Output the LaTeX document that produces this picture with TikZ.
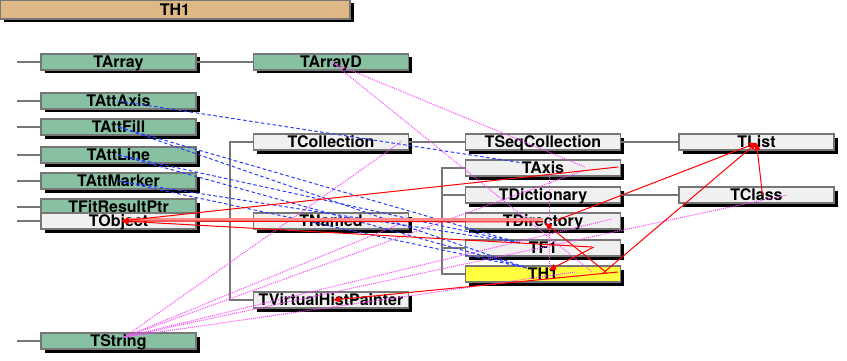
\documentclass[tikz,border=0pt]{standalone}
\usepackage{fontspec}
\setmainfont{TeX Gyre Heros}
\usetikzlibrary{calc,shadows,arrows.meta}
\definecolor{clsgreen}{RGB}{135,193,162}
\definecolor{clsgray}{RGB}{240,240,240}
\definecolor{clsyellow}{RGB}{255,255,64}
\definecolor{clstan}{RGB}{222,184,135}
\definecolor{edgegray}{RGB}{118,118,118}
\definecolor{usemag}{RGB}{255,70,255}
\definecolor{useblue}{RGB}{40,60,255}
\tikzset{
 cls/.style={draw=edgegray,line width=1.1pt,fill=clsgray,minimum width=155pt,minimum height=16pt,inner sep=0pt,
  text height=11.5pt,text depth=0pt,font=\bfseries\fontsize{16}{16}\selectfont,
  drop shadow={shadow xshift=3.5pt,shadow yshift=-3.5pt,fill=black,opacity=1}},
 base/.style={cls,fill=clsgreen},
 inh/.style={draw=edgegray,line width=1.4pt},
 ptr/.style={draw=red,line width=1pt,-{Triangle[length=7pt,width=6pt]}},
 mem/.style={draw=usemag,line width=1pt,dash pattern=on 1pt off 1pt},
 multi/.style={draw=useblue,line width=1pt,dash pattern=on 3.5pt off 2.5pt},
}
\begin{document}
\begin{tikzpicture}[x=1pt,y=-1pt]
\useasboundingbox (0,0) rectangle (847,361);
\node[cls,minimum width=350pt,minimum height=19pt,fill=clstan] (title) at (175,9.5) {TH1};
% classes
\node[base] (TArray) at (118.5,62) {TArray};
\node[base] (TAttAxis) at (118.5,101) {TAttAxis};
\node[base] (TAttFill) at (118.5,127) {TAttFill};
\node[base] (TAttLine) at (118.5,155) {TAttLine};
\node[base] (TAttMarker) at (118.5,181) {TAttMarker};
\node[base] (TFitResultPtr) at (118.5,207) {TFitResultPtr};
\node[cls] (TObject) at (118.5,221) {TObject};
\node[base] (TString) at (118.5,341) {TString};
\node[base] (TArrayD) at (331,62) {TArrayD};
\node[cls] (TCollection) at (331,142) {TCollection};
\node[cls] (TNamed) at (331,221) {TNamed};
\node[cls] (TVirtualHistPainter) at (331,300) {TVirtualHistPainter};
\node[cls] (TSeqCollection) at (543,142) {TSeqCollection};
\node[cls] (TAxis) at (543,168) {TAxis};
\node[cls] (TDictionary) at (543,195) {TDictionary};
\node[cls] (TDirectory) at (543,221) {TDirectory};
\node[cls] (TF1) at (543,248) {TF1};
\node[cls,fill=clsyellow] (TH1) at (543,274) {TH1};
\node[cls] (TList) at (756.5,142) {TList};
\node[cls] (TClass) at (756.5,195) {TClass};
% inheritance
\foreach \c in {TArray,TAttAxis,TAttFill,TAttLine,TAttMarker,TFitResultPtr,TObject,TString}
 \draw[inh] (\c.west) -- ++(-23,0);
\draw[inh] (TArray.east) -- (TArrayD.west);
\draw[inh] (TObject.east) -- (TNamed.west);
\draw[inh] (TCollection.west) -- ++(-23,0) |- (TVirtualHistPainter.west);
\draw[inh] (TCollection.east) -- (TSeqCollection.west);
\draw[inh] (TSeqCollection.east) -- (TList.west);
\draw[inh] (TNamed.east) -- (TDirectory.west);
\draw[inh] (TAxis.west) -- ++(-23,0) |- (TH1.west);
\foreach \c in {TDictionary,TF1} \draw[inh] (\c.west) -- ++(-23,0);
\draw[inh] (TDictionary.east) -- (TClass.west);
% data members
\foreach \t/\dx/\dy in {TCollection/71/-1,TNamed/69/3,TAxis/42/2,TDirectory/69/-2,TH1/32/-2,TClass/30/0}
 \draw[mem] ($(TString)+(6,-4)$) -- ($(\t)+(\dx,\dy)$);
\draw[mem] ($(TArrayD)+(2,1)$) -- ($(TAxis)+(42,-1)$);
\draw[mem] ($(TArrayD)+(2,1)$) -- ($(TH1)+(49,-2)$);
\draw[mem] ($(TH1)+(6,-6)$) -- ($(TAxis)+(6,4)$);
% multiple inheritance
\draw[multi] (TAttAxis.center) -- ($(TAxis)+(-20,-5)$);
\foreach \b in {TAttFill,TAttLine,TAttMarker}{
 \draw[multi] (\b.center) -- ($(TF1)+(-23,-5)$);
 \draw[multi] (\b.center) -- ($(TH1)+(-16,-6)$);
}
% pointers
\draw[draw=red!45,line width=2.5pt] ($(TDirectory)+(0,-1.5)$) -- ($(TObject)+(8,-1.5)$);
\draw[ptr] ($(TDirectory)+(0,1)$) -- ($(TObject)+(3,0)$);
\draw[ptr] ($(TAxis)+(75,-1)$) -- ($(TObject)+(3,0)$);
\draw[ptr] ($(TF1)+(49,-1)$) -- ($(TObject)+(3,0)$);
\draw[ptr] ($(TF1)+(51,-1)$) -- ($(TH1)+(6,-4)$);
\draw[ptr] ($(TH1)+(64,-1)$) -- ($(TDirectory)+(2,2)$);
\draw[ptr] ($(TH1)+(59,0)$) -- ($(TList)+(0,1)$);
\draw[ptr] ($(TDirectory)+(12,0)$) -- ($(TList)+(0,1)$);
\draw[ptr] ($(TClass)+(6,0)$) -- ($(TList)+(0,1)$);
\draw[ptr] ($(TH1)+(75,-2)$) -- ($(TVirtualHistPainter)+(2,0)$);
\end{tikzpicture}
\end{document}
